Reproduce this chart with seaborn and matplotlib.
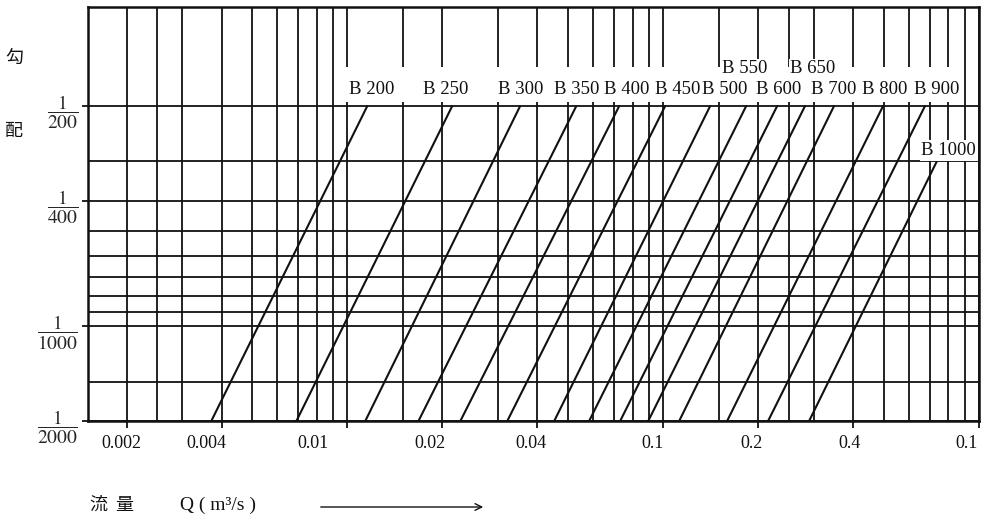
import numpy as np
import pandas as pd
import matplotlib
matplotlib.use("Agg")
import matplotlib.pyplot as plt
import seaborn as sns
from matplotlib.patches import Rectangle
from matplotlib.ticker import FixedLocator, FixedFormatter, NullFormatter

# ---------------- data ----------------
pipes = ["B 200", "B 250", "B 300", "B 350", "B 400", "B 450", "B 500",
         "B 550", "B 600", "B 650", "B 700", "B 800", "B 900", "B 1000"]
# flow Q (m3/s) where each line meets slope 1/2000
q_at_min_slope = [0.00371, 0.00690, 0.0114, 0.0168, 0.0228, 0.0321, 0.0452,
                  0.0583, 0.0731, 0.0897, 0.1124, 0.1594, 0.2149, 0.2898]
min_slope_den = 2000
# flow Q (m3/s) at the upper end of each line and that end's slope denominator
q_at_max_slope = [0.01157, 0.02149, 0.03526, 0.0531, 0.0726, 0.1015, 0.1409,
                  0.1832, 0.2296, 0.2813, 0.3476, 0.4969, 0.6745, 0.735]
max_slope_den = [200, 200, 200, 200, 200, 200, 200,
                 200, 200, 200, 200, 200, 200, 300]

x_major = [0.002, 0.004, 0.01, 0.02, 0.04, 0.1, 0.2, 0.4, 1.0]
x_major_labels = ["0.002", "0.004", "0.01", "0.02", "0.04", "0.1", "0.2", "0.4", "0.1"]
x_minor = [0.0025, 0.003, 0.005, 0.006, 0.007, 0.008, 0.009, 0.015, 0.03,
           0.05, 0.06, 0.07, 0.08, 0.09, 0.15, 0.25, 0.3, 0.5, 0.6, 0.7, 0.8, 0.9]
y_major_den = [2000, 1000, 400, 200]
y_minor_den = [1500, 900, 800, 700, 600, 500, 300]

# ---------------- layout / style ----------------
W, H = 989, 525
label_dx = [4, -7, 1, 0, 7, 12, 14, -2, 1, 8, 0, 2, 12, 12]
label_dy = [16, 16, 16, 16, 16, 16, 16, 37, 16, 37, 16, 16, 16, 11]
xlabel_dx = [-5, -15, -34, -12, -7, -11, -7, -4, -12]
INK = "#111111"

sns.set_theme(style="white")
plt.rcParams["font.family"] = ["Liberation Serif", "DejaVu Serif"]
plt.rcParams["mathtext.fontset"] = "stix"

fig = plt.figure(figsize=(W / 100, H / 100), dpi=100)
fig.patch.set_facecolor("white")
ax = fig.add_axes([88 / W, 1 - 421 / H, (979 - 88) / W, (421 - 7) / H])

rows = []
for p, ql, qh, dh in zip(pipes, q_at_min_slope, q_at_max_slope, max_slope_den):
    rows.append({"pipe": p, "Q": ql, "I": 1 / min_slope_den})
    rows.append({"pipe": p, "Q": qh, "I": 1 / dh})
df = pd.DataFrame(rows)

sns.lineplot(data=df, x="Q", y="I", hue="pipe", hue_order=pipes,
             palette={p: INK for p in pipes}, legend=False, ax=ax,
             linewidth=1.5, sort=False, estimator=None, zorder=3)

ax.set_xscale("log")
ax.set_yscale("log")
ax.set_xlim(0.00151, 1.0)
ax.set_ylim(1 / 2000, 1 / 97)
ax.set_xlabel("")
ax.set_ylabel("")

ax.xaxis.set_major_locator(FixedLocator(x_major))
ax.xaxis.set_minor_locator(FixedLocator(x_minor))
ax.xaxis.set_major_formatter(NullFormatter())
ax.xaxis.set_minor_formatter(NullFormatter())

y_major = [1 / d for d in y_major_den]
ax.yaxis.set_major_locator(FixedLocator(y_major))
ax.yaxis.set_minor_locator(FixedLocator([1 / d for d in y_minor_den]))
ax.yaxis.set_major_formatter(FixedFormatter([r"$\dfrac{1}{%d}$" % d for d in y_major_den]))
ax.yaxis.set_minor_formatter(NullFormatter())

ax.set_axisbelow(True)
ax.grid(which="both", axis="both", color=INK, linewidth=1.3)
ax.tick_params(axis="x", which="major", direction="out", length=5, width=1.3,
               color=INK, bottom=True)
ax.tick_params(axis="y", which="major", direction="out", length=4, width=1.3,
               color=INK, left=True, labelsize=14, pad=3)
ax.tick_params(which="minor", length=0)
for s in ax.spines.values():
    s.set_color(INK)
    s.set_linewidth(1.8)
    s.set_visible(True)

# white band above the 1/200 line where the size labels sit
ax.add_patch(Rectangle((0.0095, 1 / 200 * 1.03), 0.85 - 0.0095, 1 / 150 - 1 / 200 * 1.03,
                       facecolor="white", edgecolor="none", zorder=1))

# pipe size labels
for p, qh, dh, dx, dy in zip(pipes, q_at_max_slope, max_slope_den, label_dx, label_dy):
    ax.annotate(p, xy=(qh, 1 / dh), xytext=(dx, dy), textcoords="offset pixels",
                ha="center", va="center", fontsize=13.5, color=INK, zorder=5,
                bbox=dict(boxstyle="square,pad=0.1", facecolor="white", edgecolor="none"))

# x tick labels (printed slightly left of their ticks in the original)
for q, lab, dx in zip(x_major, x_major_labels, xlabel_dx):
    ax.annotate(lab, xy=(q, 0), xycoords=("data", "axes fraction"),
                xytext=(dx, -22), textcoords="offset pixels",
                ha="center", va="center", fontsize=13, color=INK,
                annotation_clip=False)

cjk = ["Noto Sans CJK JP", "DejaVu Sans"]
fig.text(14 / W, 1 - 58 / H, "勾", family=cjk, fontsize=13, ha="center", va="center", color=INK)
fig.text(14 / W, 1 - 131 / H, "配", family=cjk, fontsize=13, ha="center", va="center", color=INK)

fig.text(90 / W, 1 - 505 / H, "流  量", family=cjk, fontsize=13, ha="left", va="center", color=INK)
fig.text(180 / W, 1 - 505 / H, "Q ( m³/s )", fontsize=14, ha="left", va="center", color=INK)
ax.annotate("", xy=(486 / W, 1 - 507 / H), xytext=(318 / W, 1 - 507 / H),
            xycoords="figure fraction", textcoords="figure fraction",
            arrowprops=dict(arrowstyle="->", lw=1.0, color=INK), annotation_clip=False)

fig.savefig("out.png", dpi=100)
